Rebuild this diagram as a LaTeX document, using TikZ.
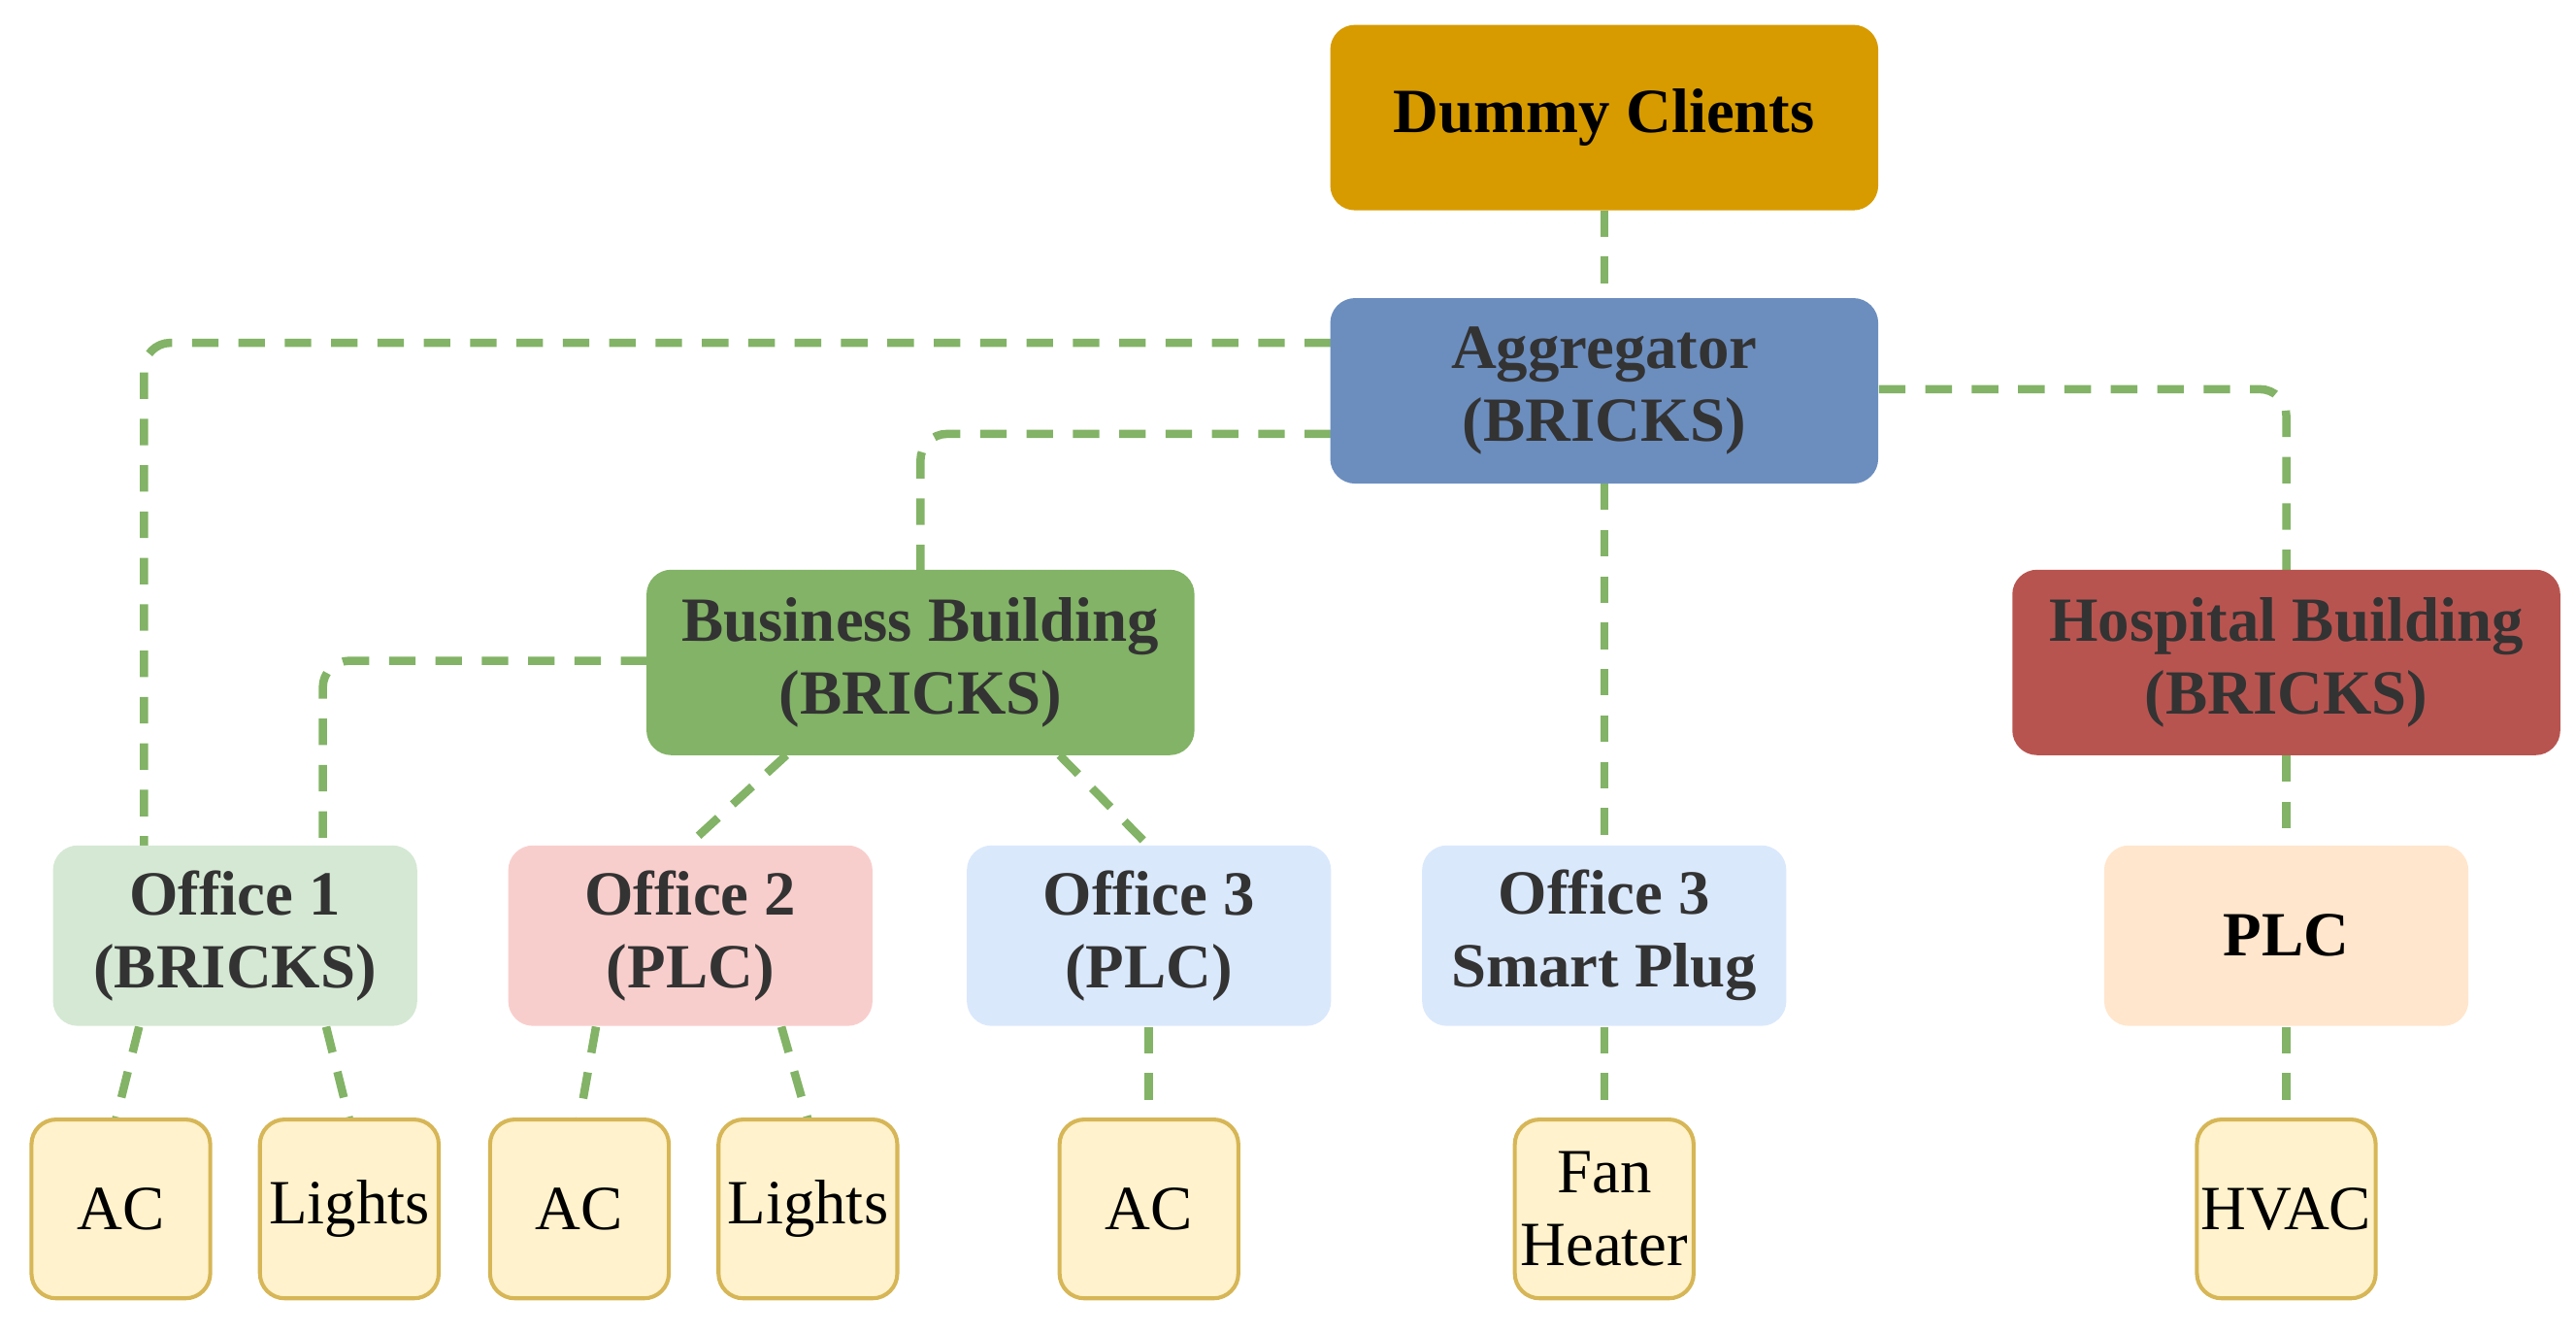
\documentclass[tikz,border=0pt]{standalone}
\usepackage{fontspec}
\setmainfont{Liberation Serif}
\begin{document}
\begin{tikzpicture}[x=0.5pt,y=-0.5pt,
 box/.style={rounded corners=7.5pt,align=center,font=\fontsize{19}{22}\selectfont\bfseries,text=black!80,inner sep=0pt},
 big/.style={box,minimum width=165.5pt,minimum height=56pt},
 mid/.style={box,minimum width=110pt,minimum height=54.5pt},
 leaf/.style={rounded corners=7.5pt,align=center,font=\fontsize{19}{22}\selectfont,fill=leaffill,draw=leafdraw,line width=1.2pt,minimum width=54pt,minimum height=54pt,inner sep=0pt},
 con/.style={draw=cgreen,line width=2.5pt,dash pattern=on 8pt off 6pt,rounded corners=8pt}]
\definecolor{cgreen}{HTML}{82B366}
\definecolor{leaffill}{HTML}{FFF2CC}
\definecolor{leafdraw}{HTML}{D6B656}
\definecolor{cdum}{HTML}{D79B00}
\useasboundingbox (0,0) rectangle (1556,805);
% connectors
\draw[con] (969,127) -- (969,180);
\draw[con] (804,207) -| (87,511);
\draw[con] (804,262) -| (556,344);
\draw[con] (1135,235) -| (1381,344);
\draw[con] (969,292) -- (969,511);
\draw[con] (391,399) -| (195,511);
\draw[con] (475,456) -- (415,511);
\draw[con] (640,456) -- (694,511);
\draw[con] (1381,456) -- (1381,511);
\draw[con] (1381,620) -- (1381,676);
\draw[con] (84,620) -- (70,676);
\draw[con] (197,620) -- (211,676);
\draw[con] (360,620) -- (350,676);
\draw[con] (472,620) -- (488,676);
\draw[con] (694,620) -- (694,676);
\draw[con] (969,620) -- (969,676);
% nodes
\node[big,fill=cdum,text=black] (dum) at (969,71) {Dummy Clients};
\node[big,fill={rgb,255:red,108;green,142;blue,191}] (agg) at (969,236) {Aggregator\\(BRICKS)};
\node[big,fill={rgb,255:red,130;green,179;blue,102}] (bus) at (556,400) {Business Building\\(BRICKS)};
\node[big,fill={rgb,255:red,184;green,84;blue,80}] (hos) at (1381,400) {Hospital Building\\(BRICKS)};
\node[mid,fill={rgb,255:red,213;green,232;blue,212}] (o1) at (142,565) {Office 1\\(BRICKS)};
\node[mid,fill={rgb,255:red,248;green,206;blue,204}] (o2) at (417,565) {Office 2\\(PLC)};
\node[mid,fill={rgb,255:red,218;green,232;blue,252}] (o3) at (694,565) {Office 3\\(PLC)};
\node[mid,fill={rgb,255:red,218;green,232;blue,252}] (sp) at (969,565) {Office 3\\Smart Plug};
\node[mid,fill={rgb,255:red,255;green,230;blue,204},text=black] (plc) at (1381,565) {PLC};
\node[leaf] (l1) at (73,730) {AC};
\node[leaf] (l2) at (211,730) {Lights};
\node[leaf] (l3) at (350,730) {AC};
\node[leaf] (l4) at (488,730) {Lights};
\node[leaf] (l5) at (694,730) {AC};
\node[leaf] (l6) at (969,730) {Fan\\Heater};
\node[leaf] (l7) at (1381,730) {HVAC};
\end{tikzpicture}
\end{document}
